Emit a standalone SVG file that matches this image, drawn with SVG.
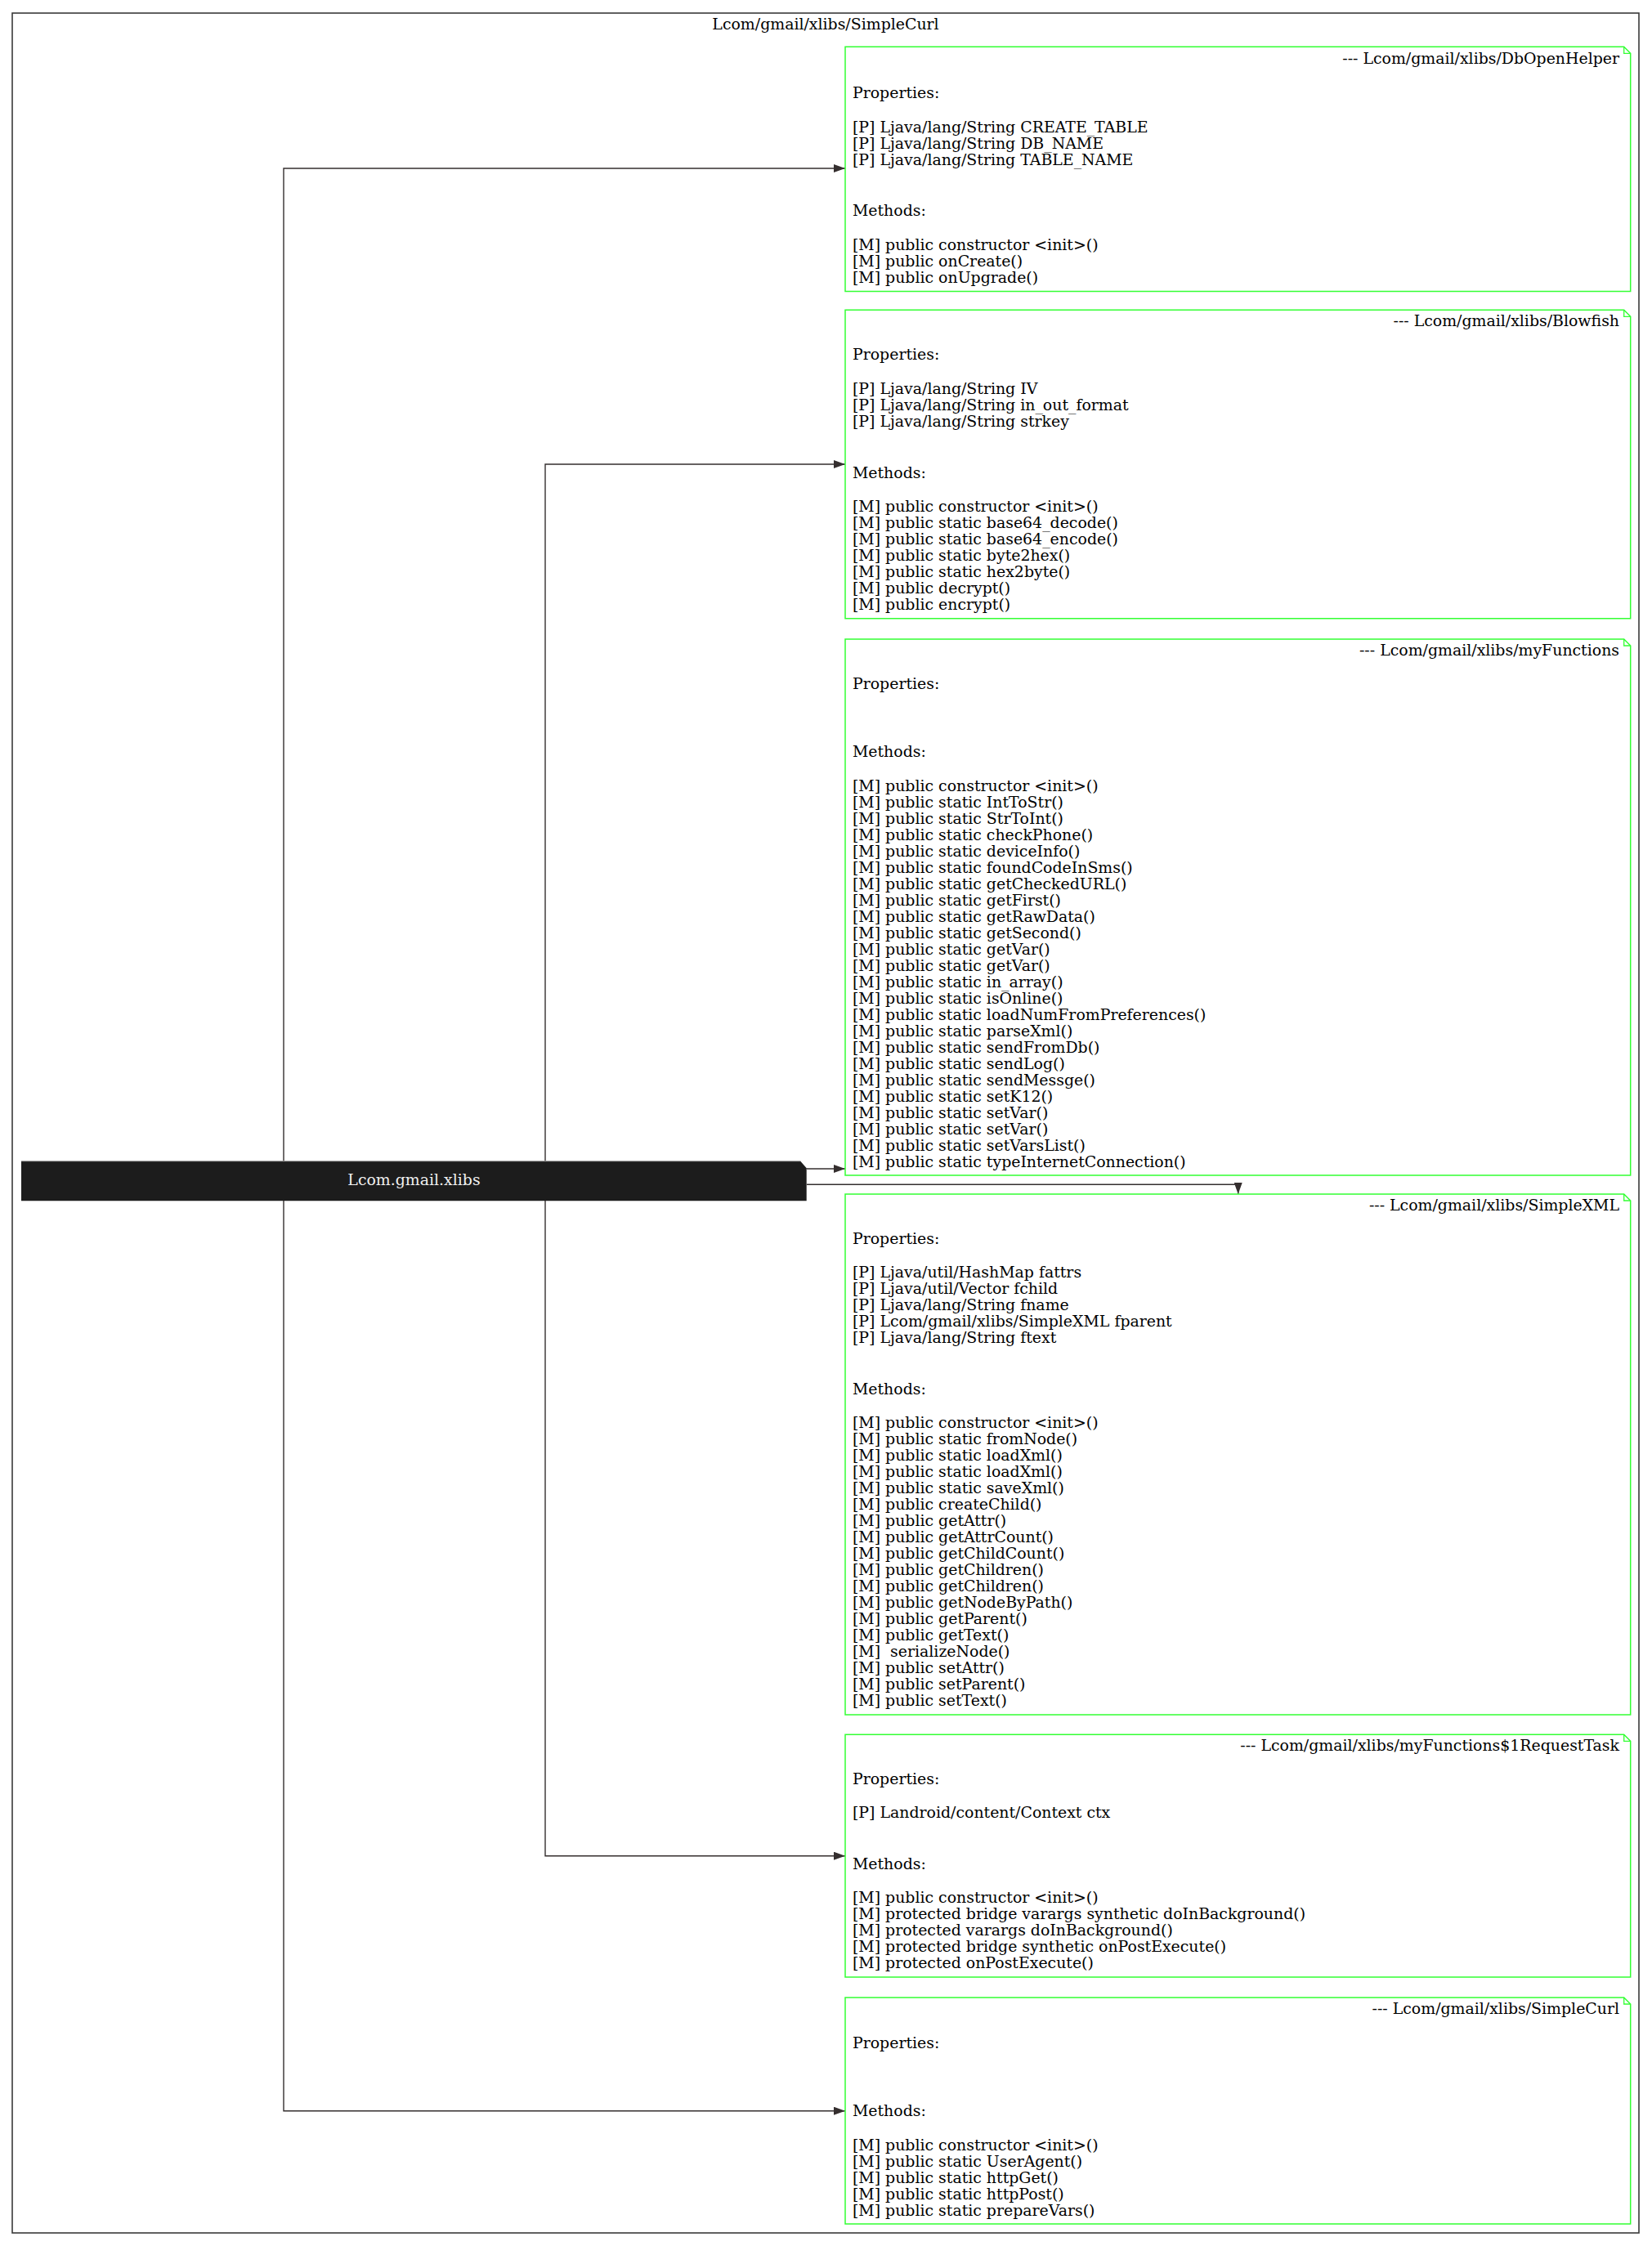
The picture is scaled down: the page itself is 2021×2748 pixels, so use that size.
<svg xmlns="http://www.w3.org/2000/svg" width="2021" height="2748" viewBox="0 0 2021 2748">
  <style>
    text { font-family: "DejaVu Serif", "Liberation Serif", serif; font-size: 18.9px; fill: #000; white-space: pre; }
    .title { text-anchor: end; }
    .note { fill: #fff; stroke: #33ff33; stroke-width: 1.5; }
    .fold { fill: none; stroke: #33ff33; stroke-width: 1.3; }
    .edge { fill: none; stroke: #352f2f; stroke-width: 1.4; }
    .pkg-label { fill: #f0f0f0; text-anchor: middle; }
    .cluster-label { text-anchor: middle; }
  </style>
  <defs>
    <marker id="arrow" markerUnits="userSpaceOnUse" markerWidth="14" markerHeight="10" refX="14" refY="5" orient="auto">
      <path d="M0,0 L14,5 L0,10 z" fill="#352f2f"/>
    </marker>
  </defs>

  <rect width="2021" height="2748" fill="#fff"/>

  <!-- package cluster -->
  <g id="cluster-simplecurl">
    <rect x="15" y="16" width="1990" height="2716" fill="none" stroke="#3a3a3a" stroke-width="1.6"/>
    <text class="cluster-label" x="1010" y="36">Lcom/gmail/xlibs/SimpleCurl</text>
  </g>

  <!-- connectors -->
  <g id="edges">
    <path class="edge" d="M347,1421 V206 H1034" marker-end="url(#arrow)"/>
    <path class="edge" d="M667,1421 V568 H1034" marker-end="url(#arrow)"/>
    <path class="edge" d="M987,1430 H1034" marker-end="url(#arrow)"/>
    <path class="edge" d="M987,1449.3 H1514.7 V1461" marker-end="url(#arrow)"/>
    <path class="edge" d="M667,1469 V2270.7 H1034" marker-end="url(#arrow)"/>
    <path class="edge" d="M347,1469 V2582.7 H1034" marker-end="url(#arrow)"/>
  </g>

  <!-- package node -->
  <g id="pkg-xlibs">
    <path d="M26,1420.7 H979.3 L986.7,1429.3 V1469.3 H26 Z" fill="#1c1c1c"/>
    <line x1="26" y1="1420.7" x2="979.3" y2="1420.7" stroke="#9a9a9a" stroke-width="1"/>
    <text class="pkg-label" x="506.5" y="1450">Lcom.gmail.xlibs</text>
  </g>

  <!-- class: DbOpenHelper -->
  <g id="cls-dbopenhelper">
    <path class="note" d="M1034,57.3 H1986.7 L1994.7,65.3 V356.5 H1034 Z"/>
    <path class="fold" d="M1986.7,57.3 V65.3 H1994.7"/>
    <text class="title" x="1981" y="77.5">--- Lcom/gmail/xlibs/DbOpenHelper</text>
    <text x="1043">
      <tspan x="1043" y="120">Properties:</tspan>
      <tspan x="1043" y="161.7">[P] Ljava/lang/String CREATE_TABLE</tspan>
      <tspan x="1043" y="181.7">[P] Ljava/lang/String DB_NAME</tspan>
      <tspan x="1043" y="201.7">[P] Ljava/lang/String TABLE_NAME</tspan>
      <tspan x="1043" y="264">Methods:</tspan>
      <tspan x="1043" y="305.7">[M] public constructor &lt;init&gt;()</tspan>
      <tspan x="1043" y="325.7">[M] public onCreate()</tspan>
      <tspan x="1043" y="345.7">[M] public onUpgrade()</tspan>
    </text>
  </g>

  <!-- class: Blowfish -->
  <g id="cls-blowfish">
    <path class="note" d="M1034,379.3 H1986.7 L1994.7,387.3 V756.7 H1034 Z"/>
    <path class="fold" d="M1986.7,379.3 V387.3 H1994.7"/>
    <text class="title" x="1981" y="399.3">--- Lcom/gmail/xlibs/Blowfish</text>
    <text x="1043">
      <tspan x="1043" y="440">Properties:</tspan>
      <tspan x="1043" y="481.7">[P] Ljava/lang/String IV</tspan>
      <tspan x="1043" y="501.7">[P] Ljava/lang/String in_out_format</tspan>
      <tspan x="1043" y="521.7">[P] Ljava/lang/String strkey</tspan>
      <tspan x="1043" y="585">Methods:</tspan>
      <tspan x="1043" y="626">[M] public constructor &lt;init&gt;()</tspan>
      <tspan x="1043" y="646">[M] public static base64_decode()</tspan>
      <tspan x="1043" y="666">[M] public static base64_encode()</tspan>
      <tspan x="1043" y="686">[M] public static byte2hex()</tspan>
      <tspan x="1043" y="706">[M] public static hex2byte()</tspan>
      <tspan x="1043" y="726">[M] public decrypt()</tspan>
      <tspan x="1043" y="746">[M] public encrypt()</tspan>
    </text>
  </g>

  <!-- class: myFunctions -->
  <g id="cls-myfunctions">
    <path class="note" d="M1034,782 H1986.7 L1994.7,790 V1438 H1034 Z"/>
    <path class="fold" d="M1986.7,782 V790 H1994.7"/>
    <text class="title" x="1981" y="802">--- Lcom/gmail/xlibs/myFunctions</text>
    <text x="1043">
      <tspan x="1043" y="843">Properties:</tspan>
      <tspan x="1043" y="926">Methods:</tspan>
      <tspan x="1043" y="967.5">[M] public constructor &lt;init&gt;()</tspan>
      <tspan x="1043" y="987.5">[M] public static IntToStr()</tspan>
      <tspan x="1043" y="1007.5">[M] public static StrToInt()</tspan>
      <tspan x="1043" y="1027.5">[M] public static checkPhone()</tspan>
      <tspan x="1043" y="1047.5">[M] public static deviceInfo()</tspan>
      <tspan x="1043" y="1067.5">[M] public static foundCodeInSms()</tspan>
      <tspan x="1043" y="1087.5">[M] public static getCheckedURL()</tspan>
      <tspan x="1043" y="1107.5">[M] public static getFirst()</tspan>
      <tspan x="1043" y="1127.5">[M] public static getRawData()</tspan>
      <tspan x="1043" y="1147.5">[M] public static getSecond()</tspan>
      <tspan x="1043" y="1167.5">[M] public static getVar()</tspan>
      <tspan x="1043" y="1187.5">[M] public static getVar()</tspan>
      <tspan x="1043" y="1207.5">[M] public static in_array()</tspan>
      <tspan x="1043" y="1227.5">[M] public static isOnline()</tspan>
      <tspan x="1043" y="1247.5">[M] public static loadNumFromPreferences()</tspan>
      <tspan x="1043" y="1267.5">[M] public static parseXml()</tspan>
      <tspan x="1043" y="1287.5">[M] public static sendFromDb()</tspan>
      <tspan x="1043" y="1307.5">[M] public static sendLog()</tspan>
      <tspan x="1043" y="1327.5">[M] public static sendMessge()</tspan>
      <tspan x="1043" y="1347.5">[M] public static setK12()</tspan>
      <tspan x="1043" y="1367.5">[M] public static setVar()</tspan>
      <tspan x="1043" y="1387.5">[M] public static setVar()</tspan>
      <tspan x="1043" y="1407.5">[M] public static setVarsList()</tspan>
      <tspan x="1043" y="1427.5">[M] public static typeInternetConnection()</tspan>
    </text>
  </g>

  <!-- class: SimpleXML -->
  <g id="cls-simplexml">
    <path class="note" d="M1034,1461 H1986.7 L1994.7,1469 V2098 H1034 Z"/>
    <path class="fold" d="M1986.7,1461 V1469 H1994.7"/>
    <text class="title" x="1981" y="1480.5">--- Lcom/gmail/xlibs/SimpleXML</text>
    <text x="1043">
      <tspan x="1043" y="1521.7">Properties:</tspan>
      <tspan x="1043" y="1562.7">[P] Ljava/util/HashMap fattrs</tspan>
      <tspan x="1043" y="1582.7">[P] Ljava/util/Vector fchild</tspan>
      <tspan x="1043" y="1602.7">[P] Ljava/lang/String fname</tspan>
      <tspan x="1043" y="1622.7">[P] Lcom/gmail/xlibs/SimpleXML fparent</tspan>
      <tspan x="1043" y="1642.7">[P] Ljava/lang/String ftext</tspan>
      <tspan x="1043" y="1705.5">Methods:</tspan>
      <tspan x="1043" y="1747">[M] public constructor &lt;init&gt;()</tspan>
      <tspan x="1043" y="1767">[M] public static fromNode()</tspan>
      <tspan x="1043" y="1787">[M] public static loadXml()</tspan>
      <tspan x="1043" y="1807">[M] public static loadXml()</tspan>
      <tspan x="1043" y="1827">[M] public static saveXml()</tspan>
      <tspan x="1043" y="1847">[M] public createChild()</tspan>
      <tspan x="1043" y="1867">[M] public getAttr()</tspan>
      <tspan x="1043" y="1887">[M] public getAttrCount()</tspan>
      <tspan x="1043" y="1907">[M] public getChildCount()</tspan>
      <tspan x="1043" y="1927">[M] public getChildren()</tspan>
      <tspan x="1043" y="1947">[M] public getChildren()</tspan>
      <tspan x="1043" y="1967">[M] public getNodeByPath()</tspan>
      <tspan x="1043" y="1987">[M] public getParent()</tspan>
      <tspan x="1043" y="2007">[M] public getText()</tspan>
      <tspan x="1043" y="2027">[M]  serializeNode()</tspan>
      <tspan x="1043" y="2047">[M] public setAttr()</tspan>
      <tspan x="1043" y="2067">[M] public setParent()</tspan>
      <tspan x="1043" y="2087">[M] public setText()</tspan>
    </text>
  </g>

  <!-- class: myFunctions$1RequestTask -->
  <g id="cls-requesttask">
    <path class="note" d="M1034,2122.3 H1986.7 L1994.7,2130.3 V2419 H1034 Z"/>
    <path class="fold" d="M1986.7,2122.3 V2130.3 H1994.7"/>
    <text class="title" x="1981" y="2141.5">--- Lcom/gmail/xlibs/myFunctions$1RequestTask</text>
    <text x="1043">
      <tspan x="1043" y="2183.3">Properties:</tspan>
      <tspan x="1043" y="2224.3">[P] Landroid/content/Context ctx</tspan>
      <tspan x="1043" y="2287">Methods:</tspan>
      <tspan x="1043" y="2328.3">[M] public constructor &lt;init&gt;()</tspan>
      <tspan x="1043" y="2348.3">[M] protected bridge varargs synthetic doInBackground()</tspan>
      <tspan x="1043" y="2368.3">[M] protected varargs doInBackground()</tspan>
      <tspan x="1043" y="2388.3">[M] protected bridge synthetic onPostExecute()</tspan>
      <tspan x="1043" y="2408.3">[M] protected onPostExecute()</tspan>
    </text>
  </g>

  <!-- class: SimpleCurl -->
  <g id="cls-simplecurl">
    <path class="note" d="M1034,2444 H1986.7 L1994.7,2452 V2721 H1034 Z"/>
    <path class="fold" d="M1986.7,2444 V2452 H1994.7"/>
    <text class="title" x="1981" y="2463.5">--- Lcom/gmail/xlibs/SimpleCurl</text>
    <text x="1043">
      <tspan x="1043" y="2505.7">Properties:</tspan>
      <tspan x="1043" y="2589">Methods:</tspan>
      <tspan x="1043" y="2630.7">[M] public constructor &lt;init&gt;()</tspan>
      <tspan x="1043" y="2650.7">[M] public static UserAgent()</tspan>
      <tspan x="1043" y="2670.7">[M] public static httpGet()</tspan>
      <tspan x="1043" y="2690.7">[M] public static httpPost()</tspan>
      <tspan x="1043" y="2710.7">[M] public static prepareVars()</tspan>
    </text>
  </g>
</svg>
